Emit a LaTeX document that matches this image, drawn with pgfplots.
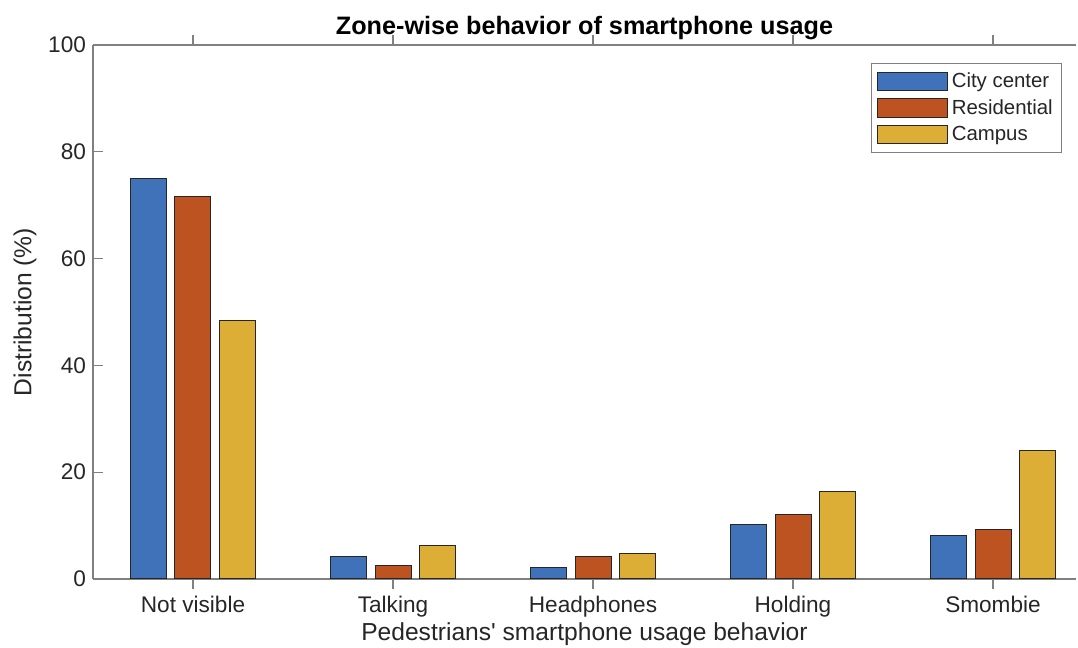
\documentclass[border=0pt]{standalone}
\usepackage{fontspec}
\setmainfont{Liberation Sans}
\usepackage{pgfplots}
\pgfplotsset{compat=1.18}

\definecolor{cblue}{RGB}{64,114,186}
\definecolor{cred}{RGB}{190,83,34}
\definecolor{cyel}{RGB}{221,174,54}
\definecolor{txt}{RGB}{38,38,38}
\definecolor{axc}{RGB}{128,128,128}

\begin{document}
\begin{tikzpicture}[font=\fontsize{10.5}{12}\selectfont]
\begin{axis}[
    at={(0,0)}, anchor=south west,
    scale only axis,
    width=491.5pt, height=267pt,
    xmin=0.5, xmax=5.415,
    ymin=0, ymax=100,
    ytick={0,20,...,100},
    xtick={1,2,3,4,5},
    xticklabels={Not visible,Talking,Headphones,Holding,Smombie},
    axis x line*=box, axis y line*=left,
    axis line style={axc, line width=0.6pt},
    tick style={axc, line width=0.6pt},
    tick align=inside,
    major tick length=5pt,
    ticklabel style={txt, font=\fontsize{11.3}{13}\selectfont},
    /pgf/number format/assume math mode=true,
    title={\bfseries Zone-wise behavior of smartphone usage},
    title style={black, font=\fontsize{12.6}{14}\selectfont, yshift=-7pt},
    xlabel={Pedestrians\textquotesingle{} smartphone usage behavior},
    ylabel={Distribution (\%)},
    label style={txt, font=\fontsize{12.3}{14}\selectfont},
    xlabel style={yshift=4pt},
    ylabel style={yshift=-1pt},
    ybar,
    bar width=0.18,
    legend style={at={(0.986,0.966)}, anchor=north east, draw=axc, line width=0.5pt,
        font=\fontsize{10.2}{12}\selectfont, text=txt,
        row sep=0.4pt, inner sep=2.5pt},
    legend cell align=left,
    legend image code/.code={\draw[#1, draw=black!85, line width=0.5pt] (0pt,-4.6pt) rectangle (35pt,4.6pt);},
]
\addplot[fill=cblue, draw=black!85, line width=0.5pt, bar shift=-0.2225] coordinates {
    (1,75.0) (2,4.2) (3,2.2) (4,10.2) (5,8.2)
};
\addplot[fill=cred, draw=black!85, line width=0.5pt, bar shift=0] coordinates {
    (1,71.7) (2,2.6) (3,4.2) (4,12.0) (5,9.2)
};
\addplot[fill=cyel, draw=black!85, line width=0.5pt, bar shift=0.2225] coordinates {
    (1,48.5) (2,6.3) (3,4.8) (4,16.3) (5,24.0)
};
\legend{City center,Residential,Campus}
\end{axis}
\pgfresetboundingbox
\path (-46.5pt,-34.5pt) rectangle (492.5pt,289.5pt);
\end{tikzpicture}
\end{document}
